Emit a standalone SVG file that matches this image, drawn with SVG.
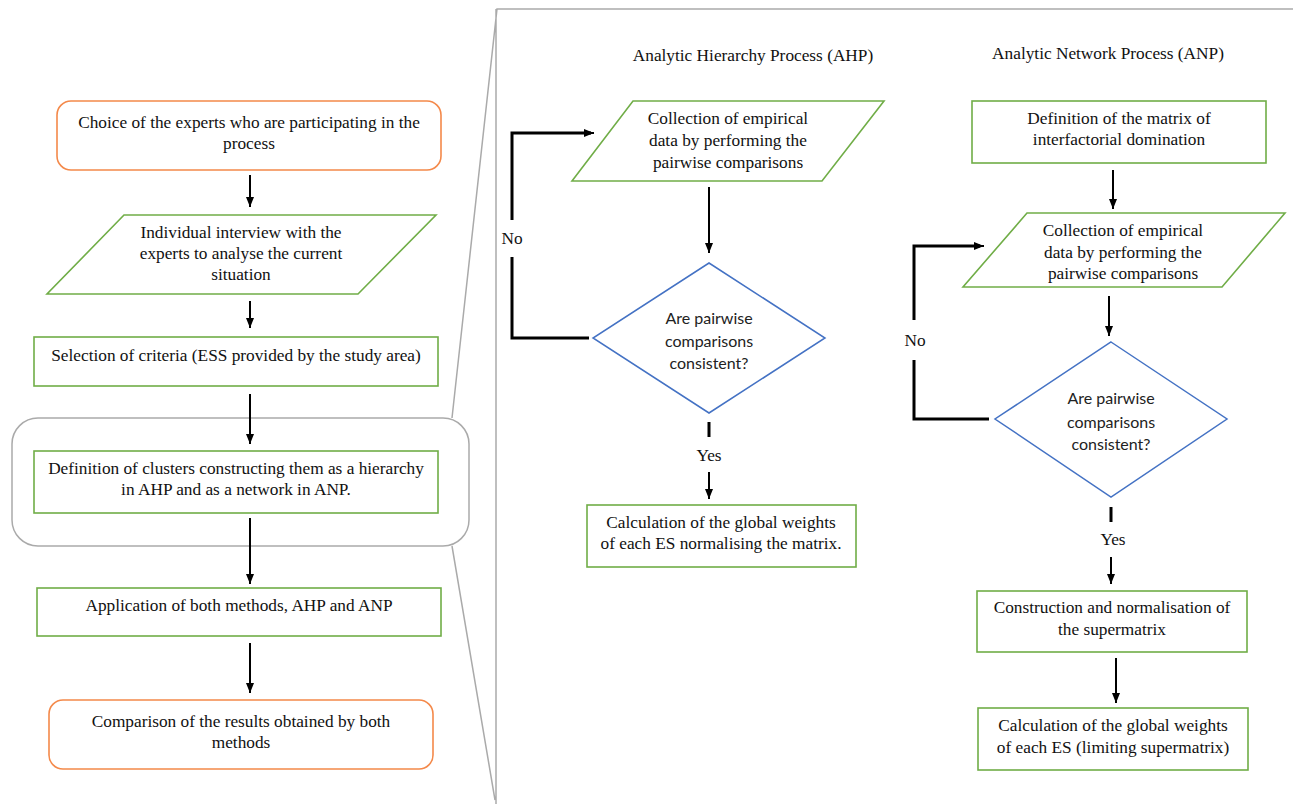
<svg xmlns="http://www.w3.org/2000/svg" width="1293" height="804" viewBox="0 0 1293 804">
<defs>
<marker id="ah" markerUnits="userSpaceOnUse" markerWidth="10" markerHeight="10" viewBox="0 0 10 10" refX="10" refY="5" orient="auto"><path d="M0,1 L10,5 L0,9 Z" fill="#000"/></marker>
<style>
.t{font-family:"Liberation Serif","Times New Roman",serif;font-size:17.3px;fill:#111;text-anchor:middle}
.s{font-family:Lato,"Liberation Sans",sans-serif;font-size:16px;fill:#222;text-anchor:middle}
.g{fill:#fff;stroke:#70ad47;stroke-width:1.6}
.o{fill:#fff;stroke:#f4894a;stroke-width:1.6}
.d{fill:#fff;stroke:#4472c4;stroke-width:1.5}
.a{stroke:#000;stroke-width:2;fill:none;marker-end:url(#ah)}
.l{stroke:#000;stroke-width:3;fill:none}
.f{stroke:#aaa;stroke-width:1.5;fill:none}
</style>
</defs>
<rect width="1293" height="804" fill="#fff"/>
<g id="frame">
<rect x="12" y="418" width="457" height="128" rx="26" class="f"/>
<path d="M1293,9 L497,9 L452,418 M452,546 L495,800 M496,9 L496,804" class="f"/>
</g>
<g id="connectors">
<line x1="250" y1="175" x2="250" y2="207" class="a"/>
<line x1="250" y1="301" x2="250" y2="328" class="a"/>
<line x1="250" y1="394" x2="250" y2="444" class="a"/>
<line x1="250" y1="518" x2="250" y2="584" class="a"/>
<line x1="250" y1="643" x2="250" y2="693" class="a"/>
<line x1="709" y1="187" x2="709" y2="253" class="a"/>
<path d="M589,338 L512,338 L512,257 M512,220 L512,133 L591,133" class="l"/>
<line x1="580" y1="133" x2="594" y2="133" class="a"/>
<line x1="709" y1="422" x2="709" y2="437" class="l"/>
<line x1="709" y1="472" x2="709" y2="499" class="a"/>
<line x1="1113" y1="170" x2="1113" y2="209" class="a"/>
<line x1="1109" y1="296" x2="1109" y2="336" class="a"/>
<path d="M989,419 L914,419 L914,360 M914,320 L914,246 L980,246" class="l"/>
<line x1="970" y1="246" x2="984" y2="246" class="a"/>
<line x1="1111" y1="507" x2="1111" y2="522" class="l"/>
<line x1="1111" y1="557" x2="1111" y2="584" class="a"/>
<line x1="1116" y1="658" x2="1116" y2="703" class="a"/>
</g>
<g id="n1"><rect x="57" y="101" width="384" height="69" rx="14" class="o"/>
<text class="t" x="249" y="128">Choice of the experts who are participating in the</text>
<text class="t" x="249" y="149">process</text></g>
<g id="n2"><polygon points="124,215 436,215 358,294 47,294" class="g"/>
<text class="t" x="241" y="238">Individual interview with the</text>
<text class="t" x="241" y="259">experts to analyse the current</text>
<text class="t" x="241" y="280">situation</text></g>
<g id="n3"><rect x="34" y="337" width="404" height="49" class="g"/>
<text class="t" x="236" y="361">Selection of criteria (ESS provided by the study area)</text></g>
<g id="n4"><rect x="34" y="451" width="404" height="62" class="g"/>
<text class="t" x="236" y="474">Definition of clusters constructing them as a hierarchy</text>
<text class="t" x="236" y="495">in AHP and as a network in ANP.</text></g>
<g id="n5"><rect x="37" y="588" width="404" height="48" class="g"/>
<text class="t" x="239" y="611">Application of both methods, AHP and ANP</text></g>
<g id="n6"><rect x="49" y="700" width="384" height="69" rx="14" class="o"/>
<text class="t" x="241" y="727">Comparison of the results obtained by both</text>
<text class="t" x="241" y="748">methods</text></g>
<g id="ahp-title"><text class="t" x="753" y="61">Analytic Hierarchy Process (AHP)</text></g>
<g id="a1"><polygon points="633,101 884,101 822,181 572,181" class="g"/>
<text class="t" x="728" y="124">Collection of empirical</text>
<text class="t" x="728" y="146">data by performing the</text>
<text class="t" x="728" y="168">pairwise comparisons</text></g>
<g id="a2"><polygon points="709,263 825,338 709,413 593,338" class="d"/>
<text class="s" x="709" y="324">Are pairwise</text>
<text class="s" x="709" y="347">comparisons</text>
<text class="s" x="709" y="369">consistent?</text></g>
<text class="t" x="512" y="244">No</text>
<text class="t" x="709" y="461">Yes</text>
<g id="a3"><rect x="587" y="505" width="269" height="62" class="g"/>
<text class="t" x="721" y="528">Calculation of the global weights</text>
<text class="t" x="721" y="549">of each ES normalising the matrix.</text></g>
<g id="anp-title"><text class="t" x="1108" y="59">Analytic Network Process (ANP)</text></g>
<g id="b1"><rect x="972" y="101" width="294" height="62" class="g"/>
<text class="t" x="1119" y="124">Definition of the matrix of</text>
<text class="t" x="1119" y="145">interfactorial domination</text></g>
<g id="b2"><polygon points="1027,213 1285,213 1222,287 963,287" class="g"/>
<text class="t" x="1123" y="236">Collection of empirical</text>
<text class="t" x="1123" y="258">data by performing the</text>
<text class="t" x="1123" y="279">pairwise comparisons</text></g>
<g id="b3"><polygon points="1111,342 1227,419 1111,497 995,419" class="d"/>
<text class="s" x="1111" y="404">Are pairwise</text>
<text class="s" x="1111" y="428">comparisons</text>
<text class="s" x="1111" y="450">consistent?</text></g>
<text class="t" x="915" y="346">No</text>
<text class="t" x="1113" y="545">Yes</text>
<g id="b4"><rect x="977" y="591" width="270" height="61" class="g"/>
<text class="t" x="1112" y="613">Construction and normalisation of</text>
<text class="t" x="1112" y="635">the supermatrix</text></g>
<g id="b5"><rect x="978" y="708" width="270" height="62" class="g"/>
<text class="t" x="1113" y="731">Calculation of the global weights</text>
<text class="t" x="1113" y="753">of each ES (limiting supermatrix)</text></g>
</svg>
